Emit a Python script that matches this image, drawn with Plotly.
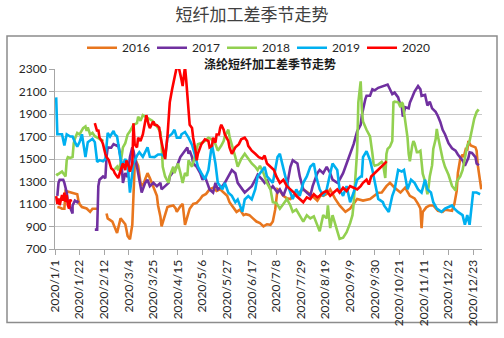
import pandas as pd
import plotly.graph_objects as go

# Seasonal PSF processing spread, each year plotted on the 2020 calendar.
# Day offsets count from Jan 1; None breaks the line over the holiday gap.
day_2016 = [2, 4, 6, 8, 9, 11, 13, 16, 19, 20, 21, 23, 26, 27, 30, 32, 36, 40,
            44, 45, 49, 51, 53, 56, 57, 58, 60, 61, 62, 64, 66, 67, 68, 69, 71, 73, 75, 77, 79, 81,
            84, 85, 87, 88, 90, 91, 93, 96, 98, 101, 103, 104, 107, 109, 111, 113, 115, 118, 121,
            124, 126, 129, 132, 135, 138, 141, 143, 147, 149, 152, 155, 158, 161, 163, 166, 169,
            172, 175, 178, 181, 184, 186, 188, 190, 192, 195, 198, 201, 203, 207, 209, 212, 215,
            218, 221, 224, 227, 229, 232, 235, 239, 243, 248, 252, 258, 263, 269, 273, 276, 279,
            283, 286, 290, 295, 299, 303, 307, 310, 312, 313, 314, 317, 320, 323, 327, 331, 333,
            336, 339, 341, 343, 344, 346, 348, 349, 351, 352, 353, 355, 359, 360, 361, 363, 364]
val_2016 = [1073, 1070, 1058, 1058, 1216, 1210, 1202, 1190, 1187, 1130, 1100, 1073, 1058, 1060,
            1030, 1058, 1058, None,
            1015, 972, 944, 886, 843, 972, 960, 944, 920, 872, 815, 786, 915, 1173, 1431, 1488,
            1440, 1288, 1259, 1320, 1374, 1330,
            1259, 1220, 1173, 1087, 990, 901, 972, 1073, 1080, 1087, 1060, 1030, 1080, 1101, 915,
            990, 1058, 1101, 1110,
            1144, 1173, 1190, 1230, 1245, 1215, 1230, 1210, 1173, 1116, 1073, 1030, 1050, 1001,
            1010, 1001, 972,
            944, 930, 901, 920, 915, 944, 1050, 1230, 1216, 1173, 1150, 1144, 1173, 1187, 1210,
            1230, 1210,
            1187, 1160, 1130, 1180, 1173, 1190, 1230, 1150, 1087, 1030, 1060, 1144, 1130, 1144,
            1173, 1200, 1202,
            1259, 1288, 1245, 1202, 1245, 1173, 1150, 1101, 1060, 886, 1030, 1070, 1087, 1087,
            1040, 1030, 1050,
            1044, 1040, 1100, 1216, 1374, 1500, 1540, 1517, 1600, 1574, 1660, 1620, 1603, 1574,
            1445, 1316, 1230, 1170]

day_2017 = [2, 3, 4, 7, 8, 10, 11, 13, 15, 15, 17, 19, 20, 27,
            34, 36, 37, 38, 41, 43, 44, 45, 48, 50, 53, 54, 56, 57, 58, 60, 62, 64, 66, 67, 68,
            70, 73, 74, 75, 77, 79, 81, 84, 87, 90, 91, 94, 97, 98, 101, 104, 107, 109, 113, 114,
            115, 117, 118, 121, 124, 126, 128, 130, 132, 135, 137, 139, 143, 145, 148, 151, 154,
            155, 156, 160, 162, 165, 168, 171, 173, 177, 179, 181, 184, 186, 190, 192, 195, 198,
            201, 203, 207, 209, 212, 215, 218, 220, 224, 226, 229, 232, 235, 237, 241, 243, 246,
            249, 252, 255, 258, 261, 262, 263, 265, 266, 269, 271, 273, 276, 280, 284, 286, 288,
            290, 293, 294, 296, 297, 299, 302, 303, 305, 307, 310, 312, 313, 316, 318, 320, 322,
            325, 327, 329, 331, 333, 336, 339, 342, 344, 348, 350, 353, 354, 356, 359, 360, 362]
val_2017 = [1173, 1288, 1316, 1316, 1288, 1202, 1116, 1058, 1015, 1087, 1130, 1116, 1130, None,
            872, 872, 1259, 1316, 1345, 1330, 1517, 1603, 1600, 1632, 1617, 1630, 1517, 1431,
            1288, 1374, 1340, 1517, 1603, 1575, 1517,
            1431, 1259, 1202, 1230, 1288, 1316, 1259, 1288, 1259, 1288, 1230, 1259, 1288, 1345,
            1388, 1431, 1517, 1546, 1603, 1546,
            1574, 1517, 1460, 1431, 1374, 1316, 1345, 1288, 1230, 1202, 1288, 1230, 1259, 1288,
            1345, 1402, 1374,
            1316, 1288, 1230, 1202, 1230, 1259, 1316, 1360, 1316, 1288, 1316, 1230, 1259, 1202,
            1230, 1173, 1259,
            1431, 1488, 1460, 1345, 1230, 1202, 1173, 1259, 1374, 1402, 1374, 1431, 1374, 1316,
            1288, 1316, 1374,
            1460, 1546, 1632, 1746, 1804, 1890, 1947, 2033, 2062, 2062, 2119, 2110, 2133, 2148,
            2162, 2120, 2076,
            2090, 2048, 2010, 1976, 1876, 1960, 1950, 2000, 2048, 2100, 2148, 2120, 2062, 2070,
            1976, 2010, 1950,
            1920, 1880, 1830, 1760, 1720, 1640, 1595, 1574, 1540, 1488, 1440, 1510, 1560, 1555,
            1517, 1460, 1445]

day_2018 = [1, 2, 4, 6, 8, 9, 10, 11, 13, 15, 16, 17, 19, 21, 24, 26, 27, 28, 30, 32, 34,
            37, 38, 40, 41, 46,
            51, 53, 54, 56, 58, 60, 62, 64, 67, 70, 71, 73, 75, 79, 81, 83, 87, 90, 91, 92, 94,
            97, 98, 101, 102, 105, 107, 109, 111, 113, 114, 117, 120, 122, 126, 128, 131, 133,
            137, 139, 142, 144, 145, 147, 148, 149, 151, 154, 156, 159, 162, 165, 168, 171, 173,
            175, 178, 181, 184, 185, 186, 189, 192, 195, 198, 201, 203, 206, 209, 212, 215, 218,
            221, 224, 226, 229, 232, 233, 235, 237, 241, 243, 246, 249, 252, 254, 255, 258, 259,
            260, 261, 262, 263, 266, 269, 271, 272, 273, 276, 279, 280, 282, 283, 284, 286, 288,
            289, 290, 293, 295, 296, 297, 299, 301, 302, 303, 305, 306, 307, 309, 310, 312, 313,
            314, 316, 318, 319, 320, 322, 323, 325, 326, 327, 329, 331, 333, 336, 339, 342, 343,
            346, 348, 350, 352, 354, 357, 358, 360, 361, 362]
val_2018 = [1370, 1360, 1374, 1388, 1360, 1345, 1488, 1517, 1510, 1517, 1640, 1680, 1732,
            1718, 1775, 1790, 1750, 1780, 1718, 1732, 1703, 1689, 1680, 1660, 1675, None,
            1410, 1431, 1400, 1460, 1603, 1640, 1718, 1746, 1804, 1818, 1876, 1840, 1890, 1861,
            1847, 1840, 1790, 1740, 1632, 1431, 1345,
            1288, 1350, 1431, 1374, 1460, 1380, 1288, 1374, 1350, 1488, 1431, 1546, 1632, 1646,
            1660, 1689, 1680,
            1632, 1574, 1620, 1660, 1703, 1746, 1761, 1700, 1632, 1517, 1431, 1500, 1546, 1500,
            1460, 1431, 1402,
            1440, 1374, 1288, 1230, 1173, 1116, 1110, 1058, 1100, 1144, 1087, 1030, 1050, 1001,
            944, 1000, 972,
            990, 915, 858, 1001, 972, 1087, 886, 1001, 858, 790, 800, 850, 930, 1001, 1100, 1574,
            2004, 2100, 2190, 1947, 1833, 1760, 1700, 1550, 1460, 1440, 1450, 1474, 1460, 1331,
            1545, 1589, 1610, 1660,
            2004, 2010, 2004, 1961, 2004, 1990, 1830, 1690, 1546, 1480, 1617, 1660, 1640, 1560,
            1560, 1574, 1474,
            1370, 1300, 1187, 1250, 1345, 1445, 1590, 1675, 1768, 1700, 1590, 1500, 1430, 1360,
            1260, 1220, 1300,
            1345, 1400, 1520, 1617, 1660, 1804, 1860, 1918, 1933, 1925]

day_2019 = [1, 2, 4, 6, 8, 10, 13, 15, 17, 19, 21, 23, 26, 28, 32, 34, 36, 38, 41, 43, 45,
            47, 50, 51, 53, 56, 57, 60, 62, 64, 67, 70, 72, 75, 79, 81, 85, 88, 91, 94, 96, 100,
            102, 104, 107, 108, 111, 114, 117, 120, 122, 125, 128, 131, 134, 137, 139, 143, 145,
            148, 151, 154, 156, 160, 162, 165, 168, 171, 173, 177, 179, 181, 184, 186, 188, 190,
            192, 195, 198, 200, 203, 206, 209, 212, 215, 218, 221, 223, 226, 229, 232, 235, 237,
            241, 243, 246, 249, 252, 255, 258, 261, 262, 263, 266, 269, 271, 273, 276, 280, 281,
            283, 285, 288, 290, 293, 296, 298, 301, 304, 307, 310, 313, 316, 318, 321, 323, 326,
            330, 333, 336, 339, 341, 344, 348, 350, 352, 354, 357, 360, 363]
val_2019 = [2048, 1720, 1720, 1720, 1620, 1720, 1700, 1700, 1650, 1610, 1650, 1720, 1517,
            1650, 1680, 1650, 1474, 1490, 1480, 1500, 1732, 1700, 1750, 1720, 1700, 1517, 1430,
            1500, 1450, 1201, 1460, 1530, 1560, 1520, 1603, 1520, 1517, 1540, 1540, 1517, 1690,
            1725, 1760, 1690, 1690, 1720, 1740, 1690, 1625, 1517, 1432, 1374, 1320, 1400, 1632,
            1460, 1288, 1231, 1288, 1200, 1173, 1115, 1140, 1030, 1140, 1170, 1140, 1231, 1345,
            1400, 1430,
            1345, 1316, 1288, 1403, 1517, 1546, 1402, 1288, 1230, 1145, 1230, 1173, 1288, 1345,
            1431, 1460, 1345, 1230, 1173, 1230, 1374, 1460, 1402, 1230, 1173, 1259, 1116, 1202,
            1316, 1345, 1345, 1517, 1569, 1489, 1402, 1288, 1145, 1116, 1087, 1058, 1030, 1173,
            1230, 1403, 1388, 1403, 1230, 1316, 1288, 1230, 1202, 1316, 1230, 1202, 1116, 1059,
            1030, 1059, 1073, 1087, 1059, 1030, 1001, 915, 1001, 915, 1202, 1202, 1187, 1144,
            1101]

day_2020 = [1, 2, 3, 4, 6, 7, 8, 9, 10, 11, 12, 13, 14, 24,
            34, 36, 37, 38, 40, 41, 43, 44, 46, 47, 48, 50, 51, 53, 54, 56, 57, 58, 60, 61, 63,
            64, 66, 67, 68, 70, 71, 73, 75, 78, 80, 81, 83, 84, 85, 87, 89, 90, 92, 94, 96, 97,
            98, 100, 101, 103, 104, 106, 107, 108, 109, 111, 112, 114, 115, 117, 118, 120, 121,
            122, 125, 128, 131, 132, 134, 135, 137, 138, 140, 141, 142, 144, 145, 148, 149, 151,
            154, 157, 159, 162, 164, 165, 168, 171, 174, 177, 179, 181, 184, 187, 189, 192, 195,
            198, 201, 204, 206, 209, 212, 215, 218, 221, 224, 226, 229, 232, 235, 238, 241, 243,
            246, 249, 252, 255, 258, 261, 263, 266, 268, 270, 273, 276, 279, 282, 283]
val_2020 = [1170, 1100, 1150, 1090, 1180, 1130, 1200, 1120, 1180, 1090, 1060, 1140, 1120, None,
            1818, 1746, 1761, 1690, 1660, 1632, 1546, 1517, 1488, 1460, 1417, 1400, 1374, 1345,
            1331, 1400, 1431, 1460, 1402, 1488, 1431,
            1388, 1460, 1818, 1632, 1603, 1689, 1660, 1718, 1890, 1804, 1775, 1818, 1833, 1804,
            1800, 1780, 1700, 1600, 1500, 1700, 1860,
            2004, 2120, 2177, 2290, 2320, 2300, 2260, 2205, 2148, 2320, 2205, 1918, 1804, 1775,
            1689, 1574, 1488,
            1546, 1632, 1675, 1660, 1603, 1617, 1689, 1646, 1718, 1718, 1775, 1804, 1761, 1718,
            1660, 1603, 1546,
            1603, 1632, 1675, 1689, 1660, 1617, 1574, 1546, 1517, 1503, 1531, 1460, 1431, 1402,
            1345, 1288, 1316,
            1259, 1230, 1202, 1173, 1144, 1116, 1159, 1144, 1187, 1159, 1173, 1202, 1216, 1173,
            1202, 1230, 1202,
            1245, 1216, 1259, 1245, 1230, 1259, 1288, 1316, 1273, 1345, 1374, 1402, 1431, 1465,
            1480]

series = [
    ("2016", day_2016, val_2016, "#E8761E"),
    ("2017", day_2017, val_2017, "#7030A0"),
    ("2018", day_2018, val_2018, "#92D050"),
    ("2019", day_2019, val_2019, "#00B0F0"),
    ("2020", day_2020, val_2020, "#FF0000"),
]

start = pd.Timestamp("2020-01-01")
tick_dates = pd.date_range("2020-01-01", "2020-12-31", freq="21D")
tick_text = [f"{d.year}/{d.month}/{d.day}" for d in tick_dates]

fig = go.Figure()
for name, days, vals, color in series:
    fig.add_trace(go.Scatter(
        x=start + pd.to_timedelta(days, unit="D"), y=vals, name=name,
        mode="lines", line=dict(color=color, width=2.6), connectgaps=False,
    ))

L, R, T, B = 55, 22, 69, 83
W, H = 504, 338
pw, ph = W - L - R, H - T - B


def px(x):
    return (x - L) / pw


def py(y):
    return (H - B - y) / ph


axis_font = dict(family="Lato, Liberation Sans, sans-serif", size=12, color="#262626")

fig.update_layout(
    width=W, height=H,
    margin=dict(l=L, r=R, t=T, b=B),
    paper_bgcolor="white", plot_bgcolor="white",
    title=dict(text="短纤加工差季节走势", x=0.5, xanchor="center", y=1 - 15 / H,
               yanchor="middle",
               font=dict(family="Noto Sans CJK SC", size=17, color="#404040")),
    showlegend=True,
    legend=dict(orientation="h", x=px(82), xanchor="left", y=py(47), yanchor="middle",
                font=dict(family="Lato, Liberation Sans, sans-serif", size=12, color="#262626"),
                bgcolor="rgba(0,0,0,0)", entrywidth=25, entrywidthmode="pixels",
                tracegroupgap=0),
    xaxis=dict(
        type="date", range=[start, start + pd.Timedelta(days=364.6)],
        tickvals=tick_dates, ticktext=tick_text, tickangle=-90,
        ticks="outside", ticklen=5, tickcolor="#a6a6a6",
        showline=True, linecolor="#a6a6a6", linewidth=1,
        showgrid=False, zeroline=False, tickfont=axis_font,
    ),
    yaxis=dict(
        range=[700, 2300], dtick=200, tick0=700,
        ticks="outside", ticklen=5, tickcolor="#a6a6a6",
        showline=True, linecolor="#a6a6a6", linewidth=1,
        showgrid=True, gridcolor="#c8c8c8", gridwidth=1.3, zeroline=False,
        tickfont=axis_font,
    ),
    annotations=[dict(
        text="<b>涤纶短纤加工差季节走势</b>", x=px(270), y=py(63), xref="paper", yref="paper",
        showarrow=False, xanchor="center", yanchor="middle",
        font=dict(family="Noto Sans CJK SC", size=12, color="#1a1a1a"),
    )],
    shapes=[dict(
        type="rect", xref="paper", yref="paper",
        x0=px(7), x1=px(497), y0=py(331), y1=py(35),
        line=dict(color="#8c8c8c", width=1.5), layer="below",
    )],
)

fig.write_html("out.html")
